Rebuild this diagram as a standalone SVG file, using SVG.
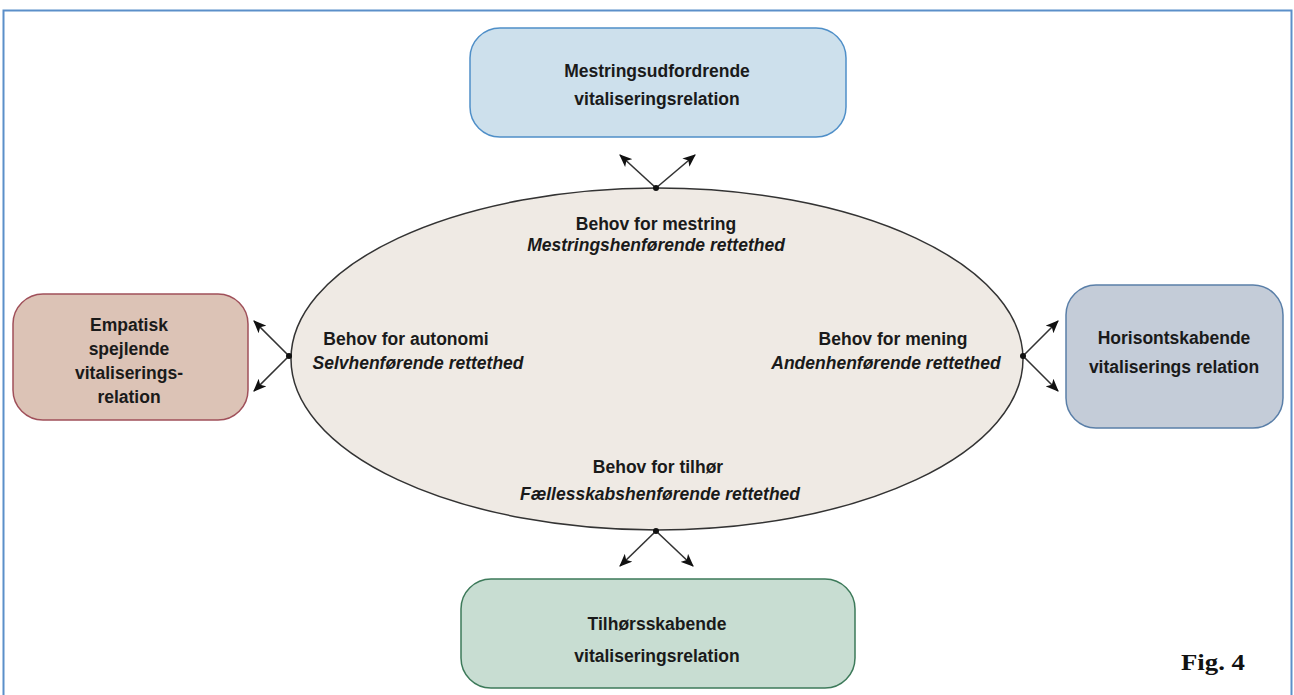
<svg xmlns="http://www.w3.org/2000/svg" width="1294" height="695" viewBox="0 0 1294 695">
<defs>
<marker id="ah" viewBox="0 0 12 10" refX="11" refY="5" markerWidth="13" markerHeight="11" markerUnits="userSpaceOnUse" orient="auto">
<path d="M0,0 L12,5 L0,10 L3,5 Z" fill="#111"/>
</marker>
</defs>
<style>
.t{font-family:"Liberation Sans",Arial,sans-serif;font-weight:bold;font-size:17.5px;fill:#1a1a1a;text-anchor:middle}
.i{font-style:italic}
.c{stroke:#333;stroke-width:1.6;fill:none;marker-end:url(#ah)}
</style>
<rect width="1294" height="695" fill="#fff"/>
<path d="M3.5,695 V10.5 H1291.5 V695" fill="none" stroke="#5b8fc9" stroke-width="2"/>
<g id="center">
<ellipse cx="657" cy="359" rx="366" ry="171" fill="#efeae4" stroke="#333" stroke-width="1.5"/>
<text class="t" x="656" y="230">Behov for mestring</text>
<text class="t i" x="656" y="251">Mestringshenførende rettethed</text>
<text class="t" x="406" y="345">Behov for autonomi</text>
<text class="t i" x="418" y="369">Selvhenførende rettethed</text>
<text class="t" x="893" y="345">Behov for mening</text>
<text class="t i" x="886" y="369">Andenhenførende rettethed</text>
<text class="t" x="658" y="473">Behov for tilhør</text>
<text class="t i" x="660" y="500">Fællesskabshenførende rettethed</text>
</g>
<g id="top">
<rect x="470" y="28" width="376" height="109" rx="30" fill="#cde0ec" stroke="#4f8fc8" stroke-width="1.5"/>
<text class="t" x="657" y="77">Mestringsudfordrende</text>
<text class="t" x="657" y="105">vitaliseringsrelation</text>
</g>
<g id="left">
<rect x="13" y="294" width="235" height="126" rx="30" fill="#dcc3b6" stroke="#a0505a" stroke-width="1.5"/>
<text class="t" x="129" y="331">Empatisk</text>
<text class="t" x="129" y="355">spejlende</text>
<text class="t" x="129" y="379">vitaliserings-</text>
<text class="t" x="129" y="403">relation</text>
</g>
<g id="right">
<rect x="1066" y="285" width="217" height="143" rx="30" fill="#c4ccd8" stroke="#5a7fa8" stroke-width="1.5"/>
<text class="t" x="1174" y="344">Horisontskabende</text>
<text class="t" x="1174" y="373">vitaliserings relation</text>
</g>
<g id="bottom">
<rect x="461" y="579" width="394" height="109" rx="30" fill="#c8ddd2" stroke="#3d7a5a" stroke-width="1.5"/>
<text class="t" x="657" y="630">Tilhørsskabende</text>
<text class="t" x="657" y="662">vitaliseringsrelation</text>
</g>
<g id="connectors">
<line class="c" x1="656" y1="188" x2="620" y2="155"/>
<line class="c" x1="656" y1="188" x2="695" y2="155"/>
<line class="c" x1="289" y1="356" x2="254" y2="321"/>
<line class="c" x1="289" y1="356" x2="254" y2="391"/>
<line class="c" x1="1023" y1="356" x2="1058" y2="321"/>
<line class="c" x1="1023" y1="356" x2="1058" y2="391"/>
<line class="c" x1="656" y1="531" x2="620" y2="566"/>
<line class="c" x1="656" y1="531" x2="693" y2="566"/>
<circle cx="656" cy="188" r="3" fill="#111"/>
<circle cx="289" cy="356" r="3" fill="#111"/>
<circle cx="1023" cy="356" r="3" fill="#111"/>
<circle cx="656" cy="531" r="3" fill="#111"/>
</g>
<text x="1181" y="670" font-family="Liberation Serif,serif" font-weight="bold" font-size="24" textLength="64" lengthAdjust="spacingAndGlyphs" fill="#111">Fig. 4</text>
</svg>
